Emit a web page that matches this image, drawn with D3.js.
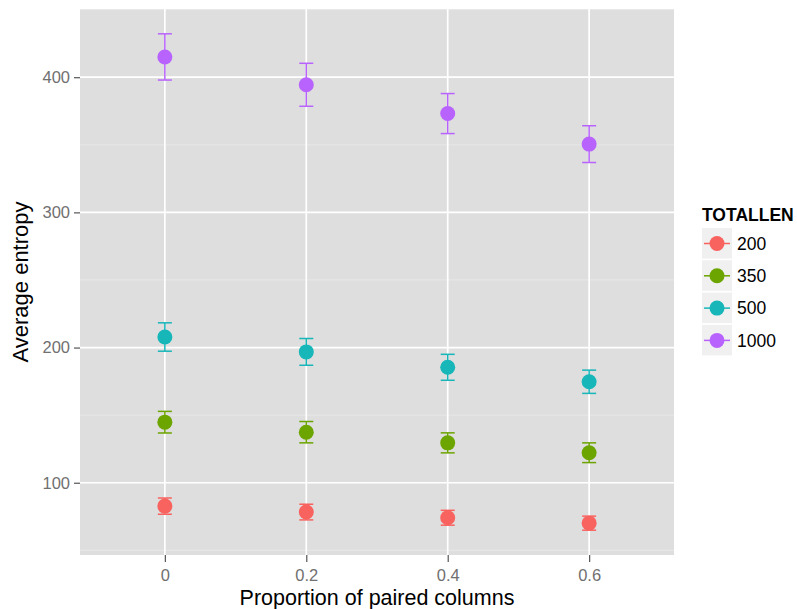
<!DOCTYPE html>
<html>
<head>
<meta charset="utf-8">
<script src="https://cdn.jsdelivr.net/npm/d3@7"></script>
<style>
  body { margin: 0; background: #fff; }
  svg { font-family: "Liberation Sans", Arial, sans-serif; }
</style>
</head>
<body>
<svg id="chart" width="797" height="609"></svg>
<script>
// data
const proportions = ["0", "0.2", "0.4", "0.6"];
const totallen = ["200", "350", "500", "1000"];
const mean200 = [82.7, 78.3, 74.1, 70.1];
const se200 = [6.0, 5.8, 5.5, 5.2];
const mean350 = [144.8, 137.4, 129.5, 122.2];
const se350 = [8.0, 7.9, 7.4, 7.3];
const mean500 = [207.8, 196.8, 185.4, 174.7];
const se500 = [10.5, 9.9, 9.6, 8.6];
const mean1000 = [415.0, 394.4, 373.1, 350.5];
const se1000 = [17.1, 15.9, 14.8, 13.6];
const yTicks = [100, 200, 300, 400];
const colors = ["#f8625f", "#6ca400", "#17b6b9", "#b863fd"];

const means = [mean200, mean350, mean500, mean1000];
const ses = [se200, se350, se500, se1000];

var rows = [];
totallen.forEach(function(g, gi) {
  proportions.forEach(function(p, pi) {
    rows.push({ group: g, prop: p, mean: means[gi][pi], se: ses[gi][pi], color: colors[gi] });
  });
});

var svg = d3.select("#chart"),
    margin = { left: 80, top: 9, right: 123, bottom: 54 },
    width = +svg.attr("width") - margin.left - margin.right,
    height = +svg.attr("height") - margin.top - margin.bottom;

var lo = d3.min(rows, d => d.mean - d.se),
    hi = d3.max(rows, d => d.mean + d.se),
    pad = (hi - lo) * 0.05;

var x = d3.scalePoint().domain(proportions).range([0, width]).padding(0.6);
var y = d3.scaleLinear().domain([lo - pad, hi + pad]).range([height, 0]);

var g = svg.append("g").attr("transform", "translate(" + margin.left + "," + margin.top + ")");

// panel
g.append("rect").attr("width", width).attr("height", height).attr("fill", "#dedede");

// minor grid lines halfway between the majors
var minor = [];
for (var v = 50; v <= 450; v += 100) if (v > y.domain()[0] && v < y.domain()[1]) minor.push(v);
g.selectAll(".minor").data(minor).enter().append("line")
    .attr("x1", 0).attr("x2", width)
    .attr("y1", d => y(d)).attr("y2", d => y(d))
    .attr("stroke", "#e9e9e9").attr("stroke-width", 0.9);

g.selectAll(".hmajor").data(yTicks).enter().append("line")
    .attr("x1", 0).attr("x2", width)
    .attr("y1", d => y(d)).attr("y2", d => y(d))
    .attr("stroke", "#fff").attr("stroke-width", 1.7);

g.selectAll(".vmajor").data(proportions).enter().append("line")
    .attr("y1", 0).attr("y2", height)
    .attr("x1", d => x(d)).attr("x2", d => x(d))
    .attr("stroke", "#fff").attr("stroke-width", 1.7);

// axes
var yAxis = g.append("g")
    .call(d3.axisLeft(y).tickValues(yTicks).tickSize(6).tickPadding(4));
var xAxis = g.append("g")
    .attr("transform", "translate(0," + height + ")")
    .call(d3.axisBottom(x).tickSize(7).tickPadding(3));
[yAxis, xAxis].forEach(function(a) {
  a.select(".domain").remove();
  a.selectAll(".tick line").attr("stroke", "#555").attr("stroke-width", 1.2);
  a.selectAll(".tick text").attr("fill", "#707070").style("font-size", "16.5px");
});
xAxis.selectAll(".tick text").attr("dy", "0.95em");

// error bars
var bars = g.selectAll(".err").data(rows).enter().append("g").attr("stroke", d => d.color).attr("stroke-width", 1.5);
bars.append("line")
    .attr("x1", d => x(d.prop)).attr("x2", d => x(d.prop))
    .attr("y1", d => y(d.mean - d.se)).attr("y2", d => y(d.mean + d.se));
bars.append("line")
    .attr("x1", d => x(d.prop) - 7).attr("x2", d => x(d.prop) + 7)
    .attr("y1", d => y(d.mean + d.se)).attr("y2", d => y(d.mean + d.se));
bars.append("line")
    .attr("x1", d => x(d.prop) - 7).attr("x2", d => x(d.prop) + 7)
    .attr("y1", d => y(d.mean - d.se)).attr("y2", d => y(d.mean - d.se));

g.selectAll(".pt").data(rows).enter().append("circle")
    .attr("cx", d => x(d.prop)).attr("cy", d => y(d.mean))
    .attr("r", 7.5).attr("fill", d => d.color);

// axis titles
svg.append("text")
    .attr("x", margin.left + width / 2).attr("y", 604.5)
    .attr("text-anchor", "middle").style("font-size", "21.5px").attr("fill", "#000")
    .text("Proportion of paired columns");
svg.append("text")
    .attr("transform", "translate(28," + (margin.top + height / 2) + ") rotate(-90)")
    .attr("text-anchor", "middle").style("font-size", "22px").attr("fill", "#000")
    .text("Average entropy");

// legend
var leg = svg.append("g").attr("transform", "translate(702,228)");
leg.append("text").attr("x", 0).attr("y", -7)
    .style("font-size", "17.5px").style("font-weight", "bold").text("TOTALLEN");
var key = leg.selectAll(".key").data(totallen).enter().append("g")
    .attr("transform", (d, i) => "translate(0," + i * 32.3 + ")");
key.append("rect").attr("width", 30).attr("height", 30.5).attr("fill", "#f0f0f0");
key.append("line").attr("x1", 2).attr("x2", 28).attr("y1", 15.5).attr("y2", 15.5)
    .attr("stroke", (d, i) => colors[i]).attr("stroke-width", 1.5);
key.append("circle").attr("cx", 15).attr("cy", 15.5).attr("r", 7.5).attr("fill", (d, i) => colors[i]);
key.append("text").attr("x", 35).attr("y", 15.5).attr("dy", "0.35em")
    .style("font-size", "17.5px").text(d => d);
</script>
</body>
</html>
